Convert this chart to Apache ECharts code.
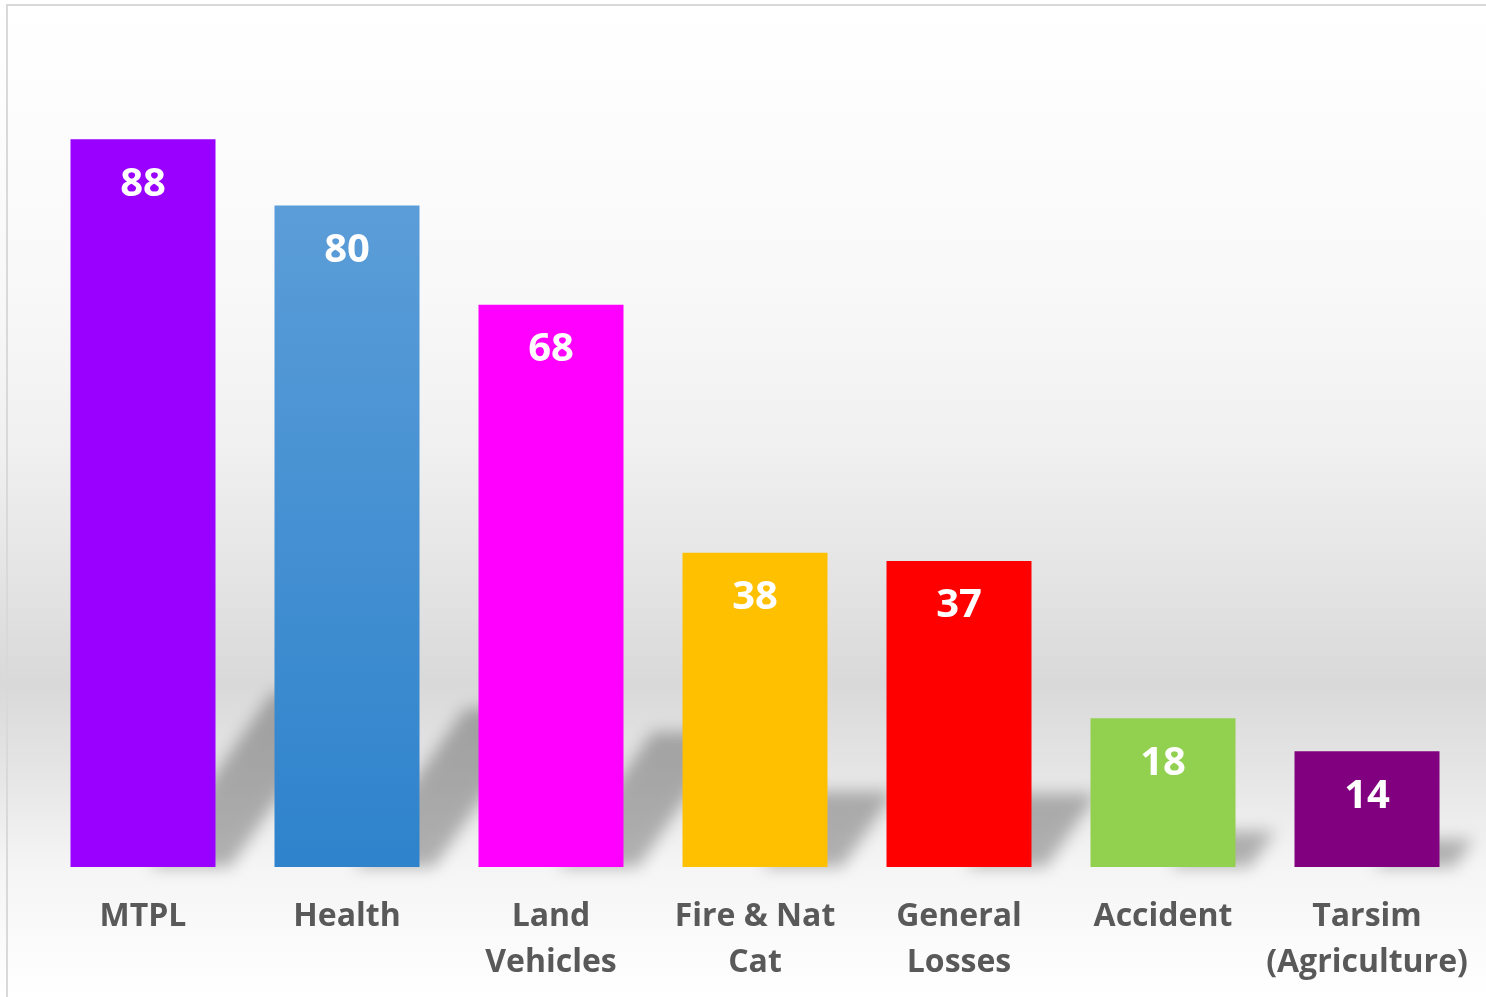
<!DOCTYPE html>
<html>
<head>
<meta charset="utf-8">
<script src="https://cdn.jsdelivr.net/npm/echarts@6/dist/echarts.min.js"></script>
<style>
html,body{margin:0;padding:0;background:#fff;}
#chart{width:1486px;height:997px;}
</style>
</head>
<body>
<div id="chart"></div>
<script>
// ---- data ----
const categories = ['MTPL', 'Health', 'Land\nVehicles', 'Fire & Nat\nCat', 'General\nLosses', 'Accident', 'Tarsim\n(Agriculture)'];
const values = [88, 80, 68, 38, 37, 18, 14];

// ---- style ----
const barColors = [
  '#9900FF',
  { type: 'linear', x: 0, y: 0, x2: 0, y2: 1, colorStops: [{ offset: 0, color: '#5B9DD8' }, { offset: 1, color: '#2E83CC' }] },
  '#FF00FF',
  '#FFC000',
  '#FF0000',
  '#92D050',
  '#800080'
];
const BAR_W = 145;

const chart = echarts.init(document.getElementById('chart'), null, { renderer: 'canvas' });

const option = {
  animation: false,
  backgroundColor: {
    type: 'linear', x: 0, y: 0, x2: 0, y2: 1,
    colorStops: [
      { offset: 0.0, color: '#ffffff' },
      { offset: 0.10, color: '#fdfdfd' },
      { offset: 0.30, color: '#f8f8f8' },
      { offset: 0.45, color: '#f0f0f0' },
      { offset: 0.60, color: '#e2e2e2' },
      { offset: 0.685, color: '#d9d9d9' },
      { offset: 0.78, color: '#e6e6e6' },
      { offset: 0.87, color: '#f5f5f5' },
      { offset: 0.90, color: '#f7f7f7' },
      { offset: 1.0, color: '#ffffff' }
    ]
  },
  graphic: [
    {
      type: 'rect', z: 100, silent: true,
      shape: { x: 7, y: 5, width: 1500, height: 1010 },
      style: { fill: 'none', stroke: '#d9d9d9', lineWidth: 2 }
    }
  ],
  grid: { left: 41, right: 17, top: 40, bottom: 130, containLabel: false },
  xAxis: {
    type: 'category',
    data: categories,
    axisLine: { show: false },
    axisTick: { show: false },
    axisLabel: {
      interval: 0,
      margin: 27,
      color: '#595959',
      fontFamily: 'Open Sans',
      fontWeight: 'bold',
      fontSize: 32,
      lineHeight: 46
    }
  },
  yAxis: {
    type: 'value', min: 0, max: 100, show: false, splitLine: { show: false }
  },
  series: [
    {
      type: 'custom',
      z: 1,
      clip: false,
      silent: true,
      data: values.map((v, i) => [i, v]),
      encode: { x: 0, y: 1 },
      renderItem: function (params, api) {
        const i = api.value(0);
        const v = api.value(1);
        const base = api.coord([i, 0]);
        const top = api.coord([i, v]);
        const barH = base[1] - top[1];
        const xR = base[0] + BAR_W / 2;
        const h = 0.24 * barH;
        const s = 0.7;
        const OFF = 4000;
        const p1 = [xR - 0.45 * BAR_W, base[1]];
        const p2 = [xR + 0.10 * BAR_W, base[1]];
        const p3 = [p2[0] + s * h, base[1] - h];
        const p4 = [p1[0] + s * h, base[1] - h];
        const pts = [p1, p2, p3, p4].map(p => [p[0] - OFF, p[1]]);
        return {
          type: 'polygon',
          shape: { points: pts },
          style: {
            fill: '#000',
            shadowColor: 'rgba(0,0,0,0.28)',
            shadowBlur: 16,
            shadowOffsetX: OFF,
            shadowOffsetY: 0
          }
        };
      }
    },
    {
      type: 'bar',
      z: 2,
      barWidth: BAR_W,
      data: values.map((v, i) => ({ value: v, itemStyle: { color: barColors[i] } })),
      label: {
        show: true,
        position: 'insideTop',
        distance: 25,
        color: '#ffffff',
        fontFamily: 'Open Sans',
        fontWeight: 'bold',
        fontSize: 40,
        lineHeight: 40,
        formatter: '{c}'
      }
    }
  ]
};

chart.setOption(option);
</script>
</body>
</html>
